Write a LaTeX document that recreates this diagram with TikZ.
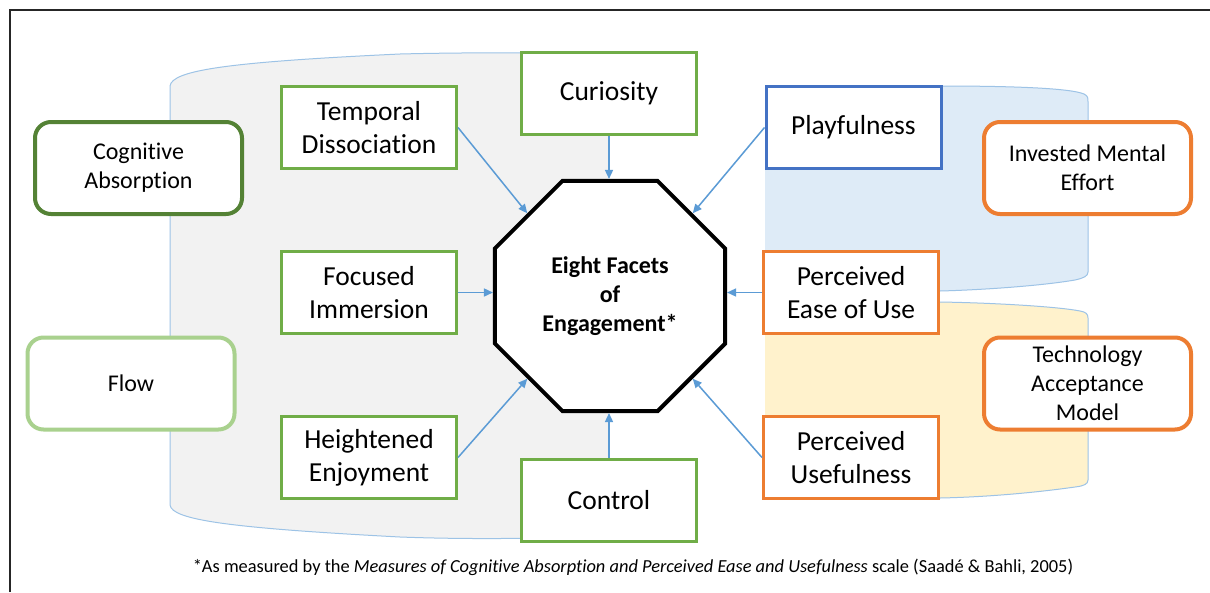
\documentclass[tikz,border=0pt]{standalone}
\usepackage{fontspec}
\setmainfont{Carlito}[Ligatures={NoCommon}]
\usetikzlibrary{shapes.geometric,arrows.meta}
\definecolor{cgreen}{HTML}{70AD47}
\definecolor{cdgreen}{HTML}{548235}
\definecolor{clgreen}{HTML}{A9D18E}
\definecolor{cblue}{HTML}{4472C4}
\definecolor{corange}{HTML}{ED7D31}
\definecolor{carrow}{HTML}{5B9BD5}
\definecolor{cedge}{HTML}{9DC3E6}
\definecolor{cgray}{HTML}{F2F2F2}
\definecolor{cbluefill}{HTML}{DEEBF7}
\definecolor{cyellow}{HTML}{FFF2CC}
\begin{document}
\begin{tikzpicture}[x=1pt,y=-1pt,
  rbox/.style={draw=cgreen, fill=white, line width=3pt, minimum width=175pt, minimum height=82pt,
    align=center, inner sep=2pt, font=\fontsize{27.5}{33}\selectfont},
  cbox/.style={draw=corange, fill=white, line width=4pt, rounded corners=16pt, minimum width=207pt,
    minimum height=92pt, align=center, inner sep=2pt, font=\fontsize{24}{29}\selectfont},
  arr/.style={draw=carrow, line width=1.5pt, -{Triangle[length=9pt,width=8pt]}},
  bgedge/.style={draw=cedge, line width=1pt},
]
\useasboundingbox (0,0) rectangle (1210,592);
\fill[white] (0,0) rectangle (1210,592);
\draw[line width=1.5pt, draw=black!85] (10,592) -- (10,10) -- (1210,10);

% gray half-can
\fill[cgray] (170,505) -- (170,86) .. controls (172,70) and (230,62) .. (400,54)
  .. controls (480,52) and (560,53) .. (608,54) -- (608,536)
  .. controls (560,538) and (480,540) .. (400,537)
  .. controls (230,528) and (172,520) .. (170,505) -- cycle;
\draw[bgedge] (608,54) .. controls (560,53) and (480,52) .. (400,54)
  .. controls (230,62) and (172,70) .. (170,86) -- (170,505)
  .. controls (172,520) and (230,528) .. (400,537)
  .. controls (480,540) and (560,538) .. (608,536);

% blue half-can
\fill[cbluefill] (765,86) -- (940,86) .. controls (1010,86) and (1070,88) .. (1084,94)
  .. controls (1088,96) and (1088,98) .. (1088,102) -- (1088,272)
  .. controls (1088,276) and (1084,278) .. (1075,280)
  .. controls (1040,286) and (980,290) .. (940,291) -- (765,291) -- cycle;
\draw[bgedge] (940,86) .. controls (1010,86) and (1070,88) .. (1084,94)
  .. controls (1088,96) and (1088,98) .. (1088,102) -- (1088,272)
  .. controls (1088,276) and (1084,278) .. (1075,280)
  .. controls (1040,286) and (980,290) .. (940,291);

% yellow half-can
\fill[cyellow] (765,302) -- (940,302) .. controls (1000,303) and (1060,307) .. (1080,311)
  .. controls (1086,312) and (1088,314) .. (1088,318) -- (1088,480)
  .. controls (1088,484) and (1084,486) .. (1075,487)
  .. controls (1040,492) and (990,497) .. (940,498) -- (765,498) -- cycle;
\draw[bgedge] (940,302) .. controls (1000,303) and (1060,307) .. (1080,311)
  .. controls (1086,312) and (1088,314) .. (1088,318) -- (1088,480)
  .. controls (1088,484) and (1084,486) .. (1075,487)
  .. controls (1040,492) and (990,497) .. (940,498);

% boxes
\node[rbox] (temp) at (369,127.5) {Temporal\\Dissociation};
\node[rbox] (focus) at (369,292.5) {Focused\\Immersion};
\node[rbox] (heigh) at (369,457.5) {Heightened\\Enjoyment};
\node[rbox] (cur) at (609,93) {Curiosity};
\node[rbox] (ctrl) at (609,500) {Control};
\node[rbox, draw=cblue] (play) at (853.5,127.5) {Playfulness};
\node[rbox, draw=corange] (peou) at (851,292.5) {Perceived\\Ease of Use};
\node[rbox, draw=corange] (pu) at (851,457.5) {Perceived\\Usefulness};

\node[cbox, draw=cdgreen] (cog) at (138.5,168) {Cognitive\\Absorption};
\node[cbox, draw=clgreen] (flow) at (131,383.5) {Flow};
\node[cbox] (ime) at (1087.5,168) {Invested Mental\\Effort};
\node[cbox] (tam) at (1087.5,383.5) {Technology\\Acceptance\\Model};

\node[regular polygon, regular polygon sides=8, draw=black, fill=white, line width=4pt,
  minimum size=249pt, inner sep=0pt, align=center,
  font=\bfseries\fontsize{24}{29}\selectfont] (eng) at (610,296) {Eight Facets\\of\\Engagement*};

% connectors
\draw[arr] (temp.east) -- (eng.135);
\draw[arr] (cur.south) -- (cur.south |- eng.north);
\draw[arr] (play.west) -- (eng.45);
\draw[arr] (focus.east) -- (focus.east -| eng.west);
\draw[arr] (peou.west) -- (peou.west -| eng.east);
\draw[arr] (heigh.east) -- (eng.225);
\draw[arr] (pu.west) -- (eng.315);
\draw[arr] (ctrl.north) -- (ctrl.north |- eng.south);

\node[font=\fontsize{18.4}{22}\selectfont] (note) at (633,567)
  {*As measured by the \textit{Measures of Cognitive Absorption and Perceived Ease and Usefulness} scale (Saadé \& Bahli, 2005)};
\end{tikzpicture}
\end{document}
